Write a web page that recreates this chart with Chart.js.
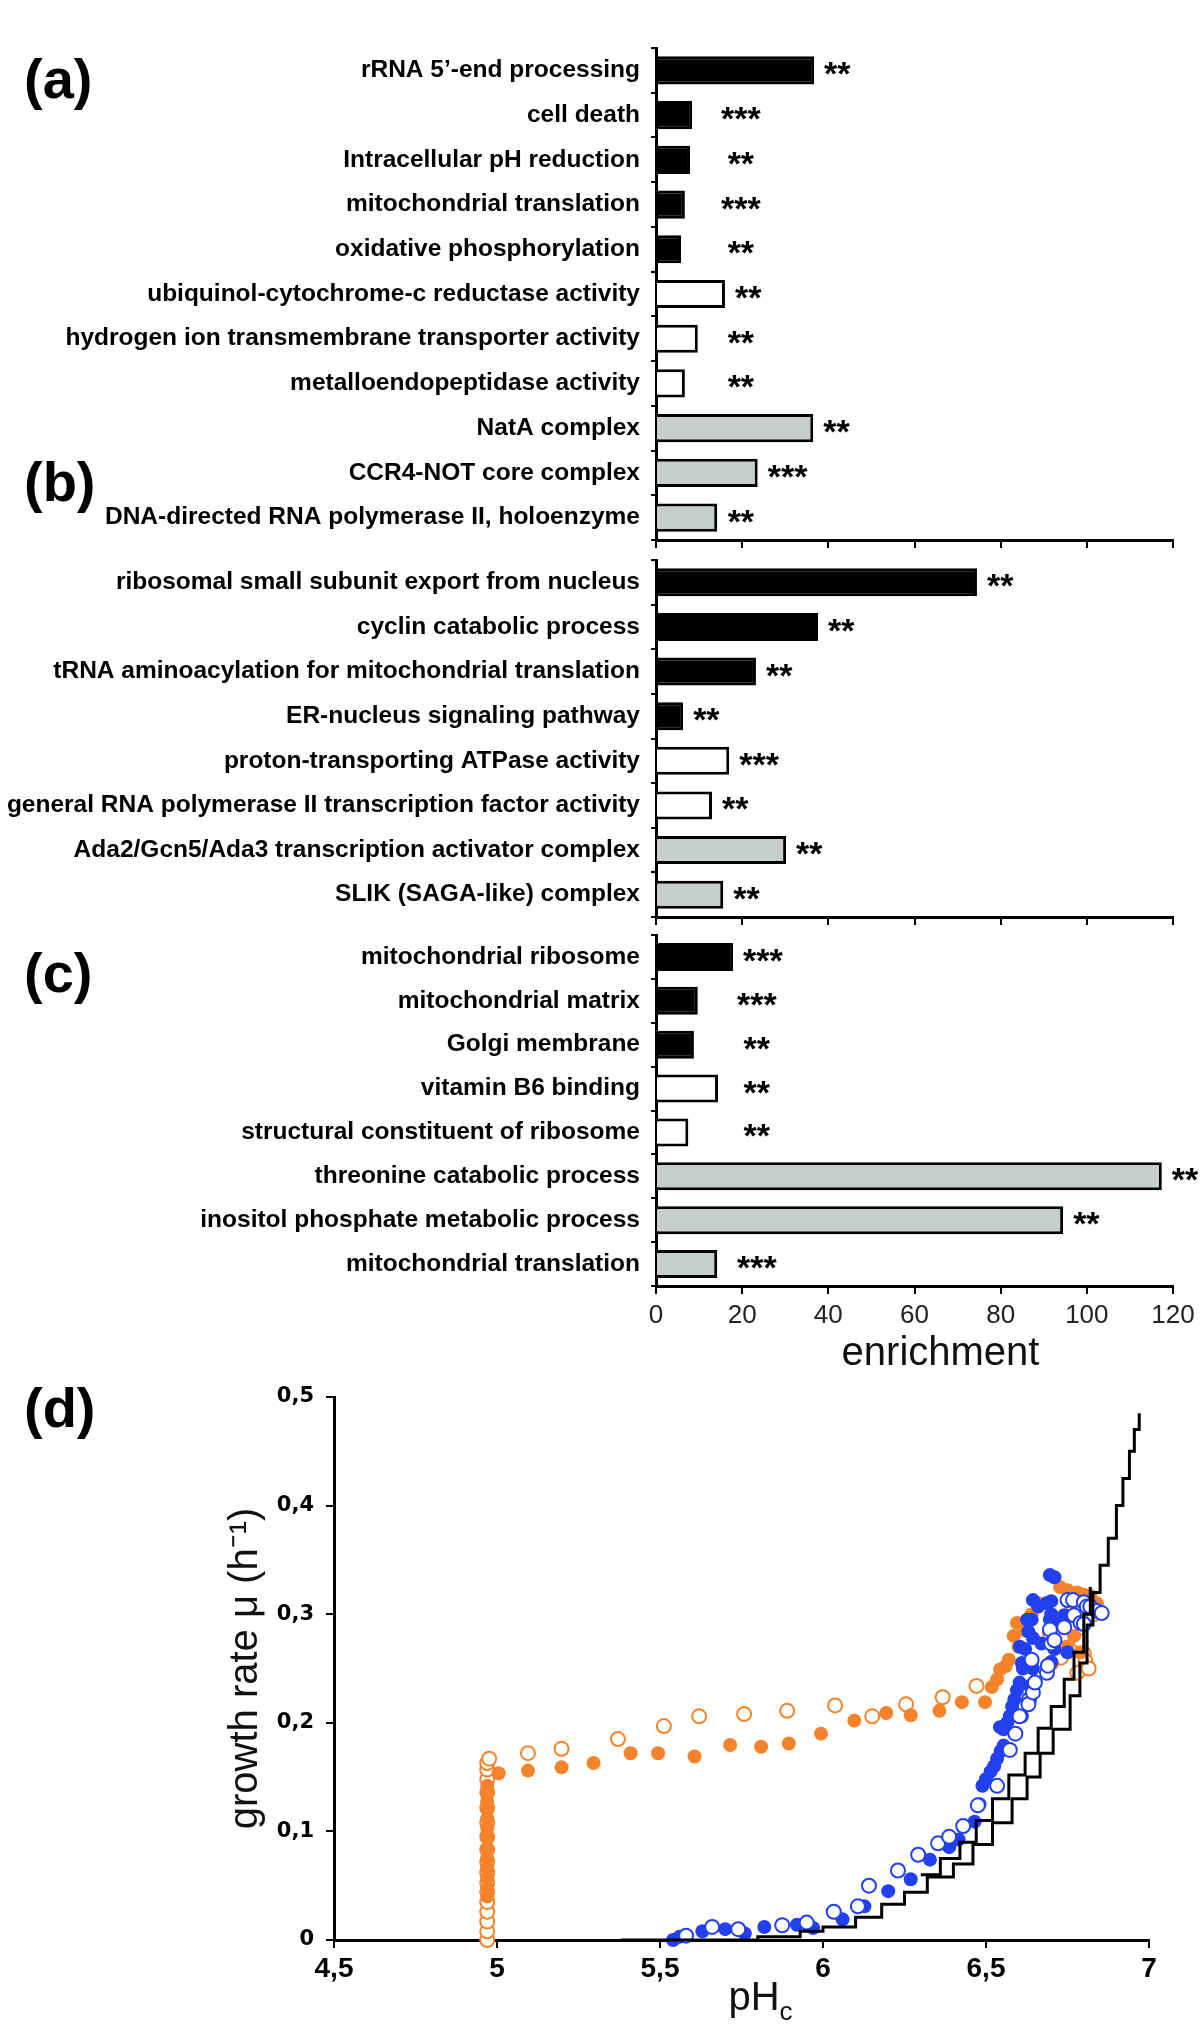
<!DOCTYPE html>
<html>
<head>
<meta charset="utf-8">
<script src="https://cdn.jsdelivr.net/npm/chart.js@4.4.0/dist/chart.umd.min.js"></script>
<style>
  body { margin: 0; background: #fff; width: 1200px; height: 2027px; position: relative; overflow: hidden; font-family: "Liberation Sans", Arial, sans-serif; }
  canvas { position: absolute; left: 0; }
  .pl { position: absolute; left: 24px; font-weight: bold; font-size: 56px; line-height: 56px; color: #000; }
</style>
</head>
<body>
<div class="pl" style="top:51px">(a)</div>
<div class="pl" style="top:454px">(b)</div>
<div class="pl" style="top:945px">(c)</div>
<div class="pl" style="top:1380px">(d)</div>

<canvas id="c1" width="1200" height="522" style="top:30px"></canvas>
<canvas id="c2" width="1200" height="379" style="top:550px"></canvas>
<canvas id="c3" width="1200" height="455" style="top:925px"></canvas>
<canvas id="c4" width="1200" height="657" style="top:1370px"></canvas>

<script>
// ---- bar panels: labels, enrichment, GO namespace (P process, F function, C component), significance
const labels1 = ["rRNA 5’-end processing", "cell death", "Intracellular pH reduction", "mitochondrial translation",
  "oxidative phosphorylation", "ubiquinol-cytochrome-c reductase activity", "hydrogen ion transmembrane transporter activity",
  "metalloendopeptidase activity", "NatA complex", "CCR4-NOT core complex", "DNA-directed RNA polymerase II, holoenzyme"];
const values1 = [36.7, 8.4, 7.9, 6.7, 5.8, 16, 9.7, 6.7, 36.5, 23.6, 14.2];
const kinds1 = ["P", "P", "P", "P", "P", "F", "F", "F", "C", "C", "C"];
const stars1 = ["**", "***", "**", "***", "**", "**", "**", "**", "**", "***", "**"];

const labels2 = ["ribosomal small subunit export from nucleus", "cyclin catabolic process",
  "tRNA aminoacylation for mitochondrial translation", "ER-nucleus signaling pathway", "proton-transporting ATPase activity",
  "general RNA polymerase II transcription factor activity", "Ada2/Gcn5/Ada3 transcription activator complex", "SLIK (SAGA-like) complex"];
const values2 = [74.5, 37.6, 23.2, 6.3, 17, 13, 30.2, 15.6];
const kinds2 = ["P", "P", "P", "P", "F", "F", "C", "C"];
const stars2 = ["**", "**", "**", "**", "***", "**", "**", "**"];

const labels3 = ["mitochondrial ribosome", "mitochondrial matrix", "Golgi membrane", "vitamin B6 binding",
  "structural constituent of ribosome", "threonine catabolic process", "inositol phosphate metabolic process", "mitochondrial translation"];
const values3 = [17.9, 9.7, 8.8, 14.4, 7.5, 117.4, 94.5, 14.2];
const kinds3 = ["P", "P", "P", "F", "F", "C", "C", "C"];
const stars3 = ["***", "***", "**", "**", "**", "**", "**", "***"];

const enrichTicks = [0, 20, 40, 60, 80, 100, 120];

// ---- panel d: pHc vs growth rate
const orangeFilledPH = [4.97, 4.97, 4.97, 4.97, 4.97, 4.97, 4.97, 4.97, 4.97, 4.97, 4.97, 4.97, 4.97,
  5.005, 5.095, 5.198, 5.296, 5.41, 5.494, 5.606, 5.715, 5.81, 5.895, 5.994, 6.096, 6.194, 6.269, 6.357, 6.426,
  6.497, 6.518, 6.534, 6.543, 6.56, 6.57, 6.585, 6.595, 6.6, 6.62, 6.64, 6.66, 6.727, 6.75, 6.78, 6.8, 6.82, 6.84, 6.748, 6.77, 6.79];
const orangeFilledMu = [0.04, 0.048, 0.057, 0.066, 0.075, 0.085, 0.094, 0.103, 0.112, 0.12, 0.128, 0.135, 0.142,
  0.1535, 0.156, 0.159, 0.163, 0.172, 0.172, 0.169, 0.1795, 0.178, 0.181, 0.19, 0.202, 0.209, 0.207, 0.211, 0.219,
  0.219, 0.233, 0.24, 0.249, 0.252, 0.258, 0.28, 0.292, 0.27, 0.285, 0.3, 0.31, 0.325, 0.322, 0.32, 0.318, 0.317, 0.31, 0.27, 0.28, 0.265];

const orangeOpenPH = [4.97, 4.97, 4.97, 4.97, 4.97, 4.97, 4.97, 4.97, 4.97, 4.97, 4.97, 4.97, 4.97, 4.97, 4.97, 4.97, 4.97, 4.976,
  5.095, 5.198, 5.371, 5.512, 5.62, 5.758, 5.89, 6.037, 6.151, 6.255, 6.367, 6.471,
  6.696, 6.73, 6.76, 6.78, 6.8, 6.805, 6.82, 6.79, 6.815, 6.83, 6.7, 6.72];
const orangeOpenMu = [0, 0.008, 0.017, 0.026, 0.035, 0.044, 0.053, 0.062, 0.072, 0.083, 0.095, 0.108, 0.122, 0.136, 0.148, 0.157, 0.163, 0.167,
  0.172, 0.176, 0.185, 0.197, 0.206, 0.208, 0.211, 0.216, 0.206, 0.217, 0.2235, 0.234,
  0.283, 0.26, 0.31, 0.246, 0.264, 0.257, 0.313, 0.275, 0.25, 0.3, 0.255, 0.27];

const blueFilledPH = [5.54, 5.56, 5.63, 5.70, 5.76, 5.82, 5.92, 5.97, 6.06, 6.127, 6.2, 6.269, 6.328, 6.387, 6.416, 6.465,
  6.48, 6.489, 6.5, 6.514, 6.525, 6.534, 6.545, 6.554, 6.554, 6.565, 6.573, 6.58, 6.587, 6.595, 6.603, 6.61, 6.613,
  6.604, 6.62, 6.626, 6.63, 6.635, 6.64, 6.644, 6.644, 6.644, 6.66, 6.67, 6.685, 6.696, 6.696, 6.70, 6.71, 6.70,
  6.725, 6.74, 6.75, 6.71, 6.70, 6.543, 6.61];
const blueFilledMu = [0, 0.003, 0.008, 0.01, 0.006, 0.012, 0.014, 0.011, 0.019, 0.031, 0.045, 0.056, 0.074, 0.0855, 0.0925, 0.109,
  0.125, 0.142, 0.148, 0.155, 0.16, 0.167, 0.174, 0.179, 0.194, 0.2, 0.206, 0.215, 0.2215, 0.23, 0.237, 0.255, 0.25,
  0.27, 0.268, 0.295, 0.284, 0.234, 0.295, 0.313, 0.278, 0.25, 0.307, 0.273, 0.31, 0.295, 0.336, 0.312, 0.334, 0.3,
  0.291, 0.299, 0.265, 0.268, 0.256, 0.196, 0.206];

const blueOpenPH = [5.58, 5.66, 5.74, 5.875, 5.95, 6.033, 6.107, 6.141, 6.23, 6.292, 6.353, 6.387, 6.43, 6.475, 6.534,
  6.573, 6.59, 6.603, 6.632, 6.63, 6.644, 6.65, 6.64, 6.687, 6.69, 6.7, 6.696, 6.71, 6.74, 6.75, 6.767, 6.77,
  6.79, 6.80, 6.809, 6.82, 6.84, 6.855, 6.8];
const blueOpenMu = [0.004, 0.012, 0.01, 0.0136, 0.016, 0.026, 0.031, 0.05, 0.064, 0.0785, 0.089, 0.095, 0.105, 0.124, 0.142,
  0.175, 0.19, 0.206, 0.2215, 0.217, 0.228, 0.237, 0.258, 0.246, 0.2526, 0.273, 0.286, 0.276, 0.288, 0.313, 0.313, 0.299,
  0.292, 0.311, 0.307, 0.307, 0.303, 0.301, 0.291];

const stepAPH = [5.38, 5.8, 5.93, 6.0, 6.1, 6.18, 6.25, 6.32, 6.4, 6.46, 6.52, 6.58, 6.626, 6.666, 6.706, 6.758, 6.788,
  6.81, 6.828, 6.85, 6.875, 6.9, 6.92, 6.94, 6.955, 6.97];
const stepAMu = [0, 0.003, 0.008, 0.012, 0.021, 0.033, 0.044, 0.058, 0.07, 0.088, 0.108, 0.13, 0.15, 0.172, 0.194, 0.225, 0.255,
  0.29, 0.32, 0.345, 0.37, 0.4, 0.425, 0.45, 0.47, 0.485];
const stepBPH = [6.3, 6.36, 6.42, 6.47, 6.52, 6.57, 6.62, 6.66, 6.7, 6.74, 6.77, 6.8, 6.82];
const stepBMu = [0.06, 0.075, 0.09, 0.11, 0.13, 0.152, 0.172, 0.195, 0.215, 0.24, 0.265, 0.3, 0.325];

const phTicks = [4.5, 5, 5.5, 6, 6.5, 7];
const muTicks = [0, 0.1, 0.2, 0.3, 0.4, 0.5];

// ---------------------------------------------------------------
const FONT = '"Liberation Sans", Arial, sans-serif';
Chart.defaults.font.family = FONT;
Chart.defaults.color = '#000';

const kindColor = { P: '#000000', F: '#ffffff', C: '#c5cecc' };

// no automatic label padding, so the plot areas keep the sizes set below
const noPad = s => { s.paddingTop = 0; s.paddingBottom = 0; s.paddingLeft = 0; s.paddingRight = 0; };

const starPlugin = {
  id: 'stars',
  afterDatasetsDraw(chart, args, o) {
    const ctx = chart.ctx, xs = chart.scales.x, ys = chart.scales.y;
    ctx.save();
    ctx.font = 'bold 34px ' + FONT;
    ctx.fillStyle = '#000';
    ctx.textAlign = 'center';
    ctx.textBaseline = 'alphabetic';
    o.stars.forEach((s, i) => {
      const w = ctx.measureText(s).width;
      let cx = xs.getPixelForValue(o.values[i]) + 10 + w / 2;
      if (o.minAt != null) cx = Math.max(cx, xs.getPixelForValue(o.minAt));
      ctx.fillText(s, cx, ys.getPixelForValue(i) + 15);
    });
    if (o.xTitle) {
      ctx.font = '40px ' + FONT;
      ctx.fillStyle = '#111';
      ctx.fillText(o.xTitle, (xs.left + xs.right) / 2 + 26, xs.bottom - 15);
    }
    ctx.restore();
  }
};

function barChart(id, labels, values, kinds, stars, cfg) {
  return new Chart(document.getElementById(id), {
    type: 'bar',
    data: {
      labels: labels,
      datasets: [{
        data: values,
        backgroundColor: kinds.map(k => kindColor[k]),
        borderColor: '#000',
        borderWidth: 3,
        barPercentage: cfg.barPct,
        categoryPercentage: 1
      }]
    },
    plugins: [starPlugin],
    options: {
      indexAxis: 'y',
      responsive: false,
      animation: false,
      layout: { padding: { top: cfg.top, right: 27, left: 0, bottom: 0 } },
      plugins: {
        legend: { display: false },
        tooltip: { enabled: false },
        stars: { stars: stars, values: values, minAt: cfg.minAt, xTitle: cfg.xTitle }
      },
      scales: {
        x: {
          min: 0, max: 120,
          afterBuildTicks: s => { s.ticks = enrichTicks.map(v => ({ value: v })); },
          ticks: { display: cfg.showTicks, font: { size: 26 }, color: '#222', padding: 6 },
          grid: { drawOnChartArea: false, tickLength: 8, color: '#000', lineWidth: 2 },
          border: { color: '#000', width: 3 },
          afterFit: s => { s.height = cfg.xh; noPad(s); }
        },
        y: {
          ticks: { autoSkip: false, font: { size: 24.5, weight: 'bold' }, color: '#000', padding: 11 },
          grid: { drawOnChartArea: false, tickLength: 5, color: '#000', lineWidth: 2 },
          border: { color: '#000', width: 3 },
          afterFit: s => { s.width = 656; noPad(s); }
        }
      }
    }
  });
}

barChart('c1', labels1, values1, kinds1, stars1, { top: 18, xh: 12, showTicks: false, barPct: 0.63, minAt: 19.7 });
barChart('c2', labels2, values2, kinds2, stars2, { top: 10, xh: 12, showTicks: false, barPct: 0.63, minAt: null });
barChart('c3', labels3, values3, kinds3, stars3, { top: 10, xh: 94, showTicks: true, barPct: 0.64, minAt: 23.4, xTitle: 'enrichment' });

// ---- panel d
const zip = (xs, ys) => xs.map((x, i) => ({ x: x, y: ys[i] }));
const ORANGE = '#f5832b', BLUE = '#2340ef';
const commaNum = v => Math.abs(v) < 1e-9 ? '0' : (Number.isInteger(v) ? String(v) : v.toFixed(1).replace('.', ','));

const phTitlePlugin = {
  id: 'phTitle',
  afterDraw(chart) {
    const ctx = chart.ctx, xs = chart.scales.x;
    const cx = (xs.left + xs.right) / 2 + 19;
    ctx.save();
    ctx.fillStyle = '#111';
    ctx.textBaseline = 'alphabetic';
    ctx.font = '40px ' + FONT;
    const w1 = ctx.measureText('pH').width;
    ctx.font = '26px ' + FONT;
    const w2 = ctx.measureText('c').width;
    const x0 = cx - (w1 + w2) / 2;
    ctx.font = '40px ' + FONT;
    ctx.fillText('pH', x0, 640);
    ctx.font = '26px ' + FONT;
    ctx.fillText('c', x0 + w1, 650);
    ctx.restore();
  }
};

const pointSet = (pts, filled, color, order) => ({
  data: pts, showLine: false, order: order, clip: false,
  pointRadius: 7,
  pointBackgroundColor: filled ? color : '#ffffff',
  pointBorderColor: color,
  pointBorderWidth: filled ? 0 : 2
});
const stepSet = (pts) => ({
  data: pts, showLine: true, stepped: true, order: 0, clip: false,
  borderColor: '#000', borderWidth: 3, pointRadius: 0, fill: false
});

new Chart(document.getElementById('c4'), {
  type: 'line',
  data: {
    datasets: [
      stepSet(zip(stepAPH, stepAMu)),
      stepSet(zip(stepBPH, stepBMu)),
      pointSet(zip(blueOpenPH, blueOpenMu), false, BLUE, 1),
      pointSet(zip(blueFilledPH, blueFilledMu), true, BLUE, 2),
      pointSet(zip(orangeFilledPH, orangeFilledMu), true, ORANGE, 3),
      pointSet(zip(orangeOpenPH, orangeOpenMu), false, ORANGE, 4)
    ]
  },
  plugins: [phTitlePlugin],
  options: {
    responsive: false,
    animation: false,
    layout: { padding: { top: 27, right: 51, left: 200, bottom: 0 } },
    plugins: { legend: { display: false }, tooltip: { enabled: false } },
    scales: {
      x: {
        type: 'linear', min: 4.5, max: 7,
        afterBuildTicks: s => { s.ticks = phTicks.map(v => ({ value: v })); },
        ticks: { callback: commaNum, font: { size: 28, weight: 'bold' }, color: '#000', padding: 4, maxRotation: 0 },
        grid: { drawOnChartArea: false, tickLength: 8, color: '#000', lineWidth: 2 },
        border: { color: '#000', width: 3 },
        afterFit: s => { s.height = 87; noPad(s); }
      },
      y: {
        type: 'linear', min: 0, max: 0.5,
        afterBuildTicks: s => { s.ticks = muTicks.map(v => ({ value: v })); },
        ticks: { callback: commaNum, font: { size: 21, weight: 'bold', family: '"DejaVu Sans", sans-serif' }, color: '#000', padding: 12 },
        grid: { drawOnChartArea: false, tickLength: 8, color: '#000', lineWidth: 2 },
        border: { color: '#000', width: 3 },
        title: { display: true, text: 'growth rate μ (h⁻¹)', font: { size: 40 }, color: '#111', padding: { top: 22, bottom: 0 } },
        afterFit: s => { s.width = 134; noPad(s); }
      }
    }
  }
});
</script>
</body>
</html>
